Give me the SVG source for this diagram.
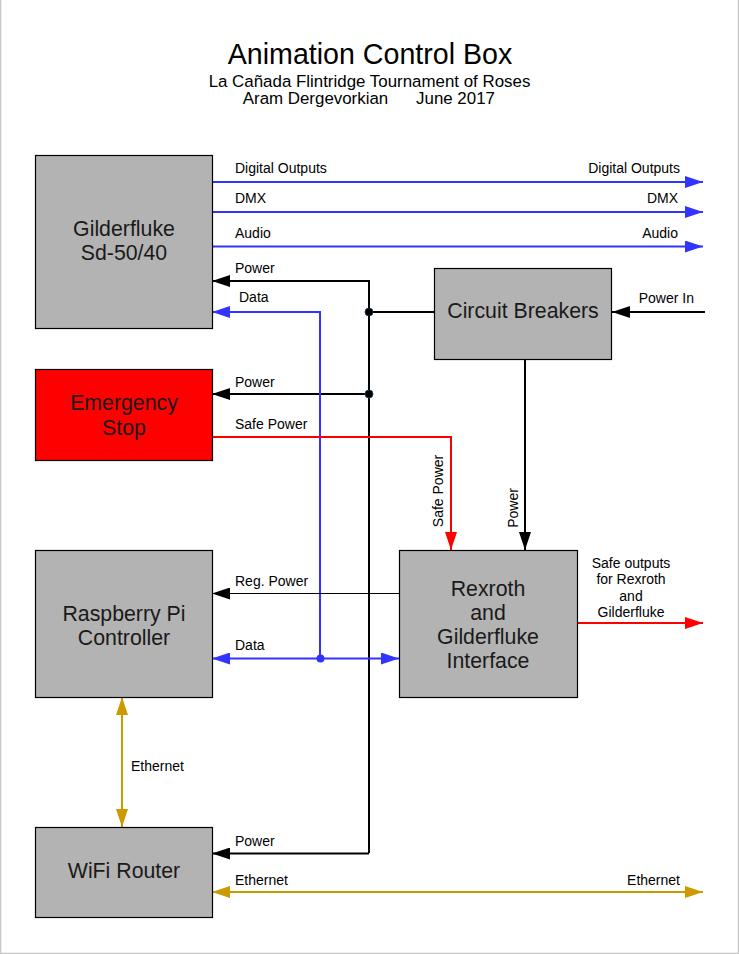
<svg xmlns="http://www.w3.org/2000/svg" width="739" height="954" viewBox="0 0 739 954">
<style>
text{font-family:"Liberation Sans",Arial,sans-serif;fill:#000}
.t1{font-size:28.6px;text-anchor:middle}
.t2{font-size:16.9px;text-anchor:middle}
.lbl{font-size:14px}
.end{text-anchor:end}
.mid{text-anchor:middle}
.box{fill:#b3b3b3;stroke:#000;stroke-width:1.2}
.bt{font-size:21.3px;text-anchor:middle;fill:#1a1a1a}
.blue{stroke:#3333ff;stroke-width:2;fill:none}
.blk{stroke:#000;stroke-width:2;fill:none}
.red{stroke:#ff0000;stroke-width:2;fill:none}
.gold{stroke:#cc9900;stroke-width:2;fill:none}
</style>
<defs>
<marker id="ab" viewBox="0 0 18 12" refX="18" refY="6" markerWidth="18" markerHeight="12" markerUnits="userSpaceOnUse" orient="auto-start-reverse"><path d="M0,0L18,6L0,12z" fill="#3333ff"/></marker>
<marker id="ak" viewBox="0 0 18 12" refX="18" refY="6" markerWidth="18" markerHeight="12" markerUnits="userSpaceOnUse" orient="auto-start-reverse"><path d="M0,0L18,6L0,12z" fill="#000"/></marker>
<marker id="ar" viewBox="0 0 18 12" refX="18" refY="6" markerWidth="18" markerHeight="12" markerUnits="userSpaceOnUse" orient="auto-start-reverse"><path d="M0,0L18,6L0,12z" fill="#ff0000"/></marker>
<marker id="ag" viewBox="0 0 18 12" refX="18" refY="6" markerWidth="18" markerHeight="12" markerUnits="userSpaceOnUse" orient="auto-start-reverse"><path d="M0,0L18,6L0,12z" fill="#cc9900"/></marker>
</defs>
<rect width="739" height="954" fill="#fff"/>
<path d="M0.5,0V953.5H738.5V0" fill="none" stroke="#c8c8c8" stroke-width="1.5"/>

<g id="title">
<text class="t1" x="370" y="64">Animation Control Box</text>
<text class="t2" x="369.5" y="86.5">La Cañada Flintridge Tournament of Roses</text>
<text class="t2" x="315.5" y="104">Aram Dergevorkian</text>
<text class="t2" x="455.5" y="104">June 2017</text>
</g>

<g id="connectors">
<path class="blue" d="M212,182H703" marker-end="url(#ab)"/>
<path class="blue" d="M212,212H703" marker-end="url(#ab)"/>
<path class="blue" d="M212,246.5H703" marker-end="url(#ab)"/>
<path class="blk" d="M369,853V281H212" marker-end="url(#ak)"/>
<path class="blk" d="M369,312H434"/>
<path class="blk" d="M369,394H212" marker-end="url(#ak)"/>
<path class="blk" d="M369,853.5H212" marker-end="url(#ak)"/>
<path class="blk" d="M705,312H612" marker-end="url(#ak)"/>
<path class="blue" d="M320,658.5V312H212" marker-end="url(#ab)"/>
<path class="blue" d="M212,658.5H399" marker-start="url(#ab)" marker-end="url(#ab)"/>
<path class="red" d="M212,437H451V550" marker-end="url(#ar)"/>
<path class="blk" d="M525,359V550" marker-end="url(#ak)"/>
<path d="M399,593.5H212" stroke="#000" stroke-width="1" fill="none" marker-end="url(#ak)"/>
<path class="red" d="M577,623H703" marker-end="url(#ar)"/>
<path class="gold" d="M122,697V827" marker-start="url(#ag)" marker-end="url(#ag)"/>
<path class="gold" d="M212,892H703" marker-start="url(#ag)" marker-end="url(#ag)"/>
<circle cx="369" cy="312" r="4" fill="#000" stroke="#1f3a5f" stroke-width="0.8"/>
<circle cx="369" cy="394" r="4" fill="#000" stroke="#1f3a5f" stroke-width="0.8"/>
<circle cx="320.5" cy="658.5" r="4" fill="#3333ff"/>
<text class="lbl" x="235" y="173">Digital Outputs</text>
<text class="lbl end" x="680" y="173">Digital Outputs</text>
<text class="lbl" x="235" y="203">DMX</text>
<text class="lbl end" x="678" y="203">DMX</text>
<text class="lbl" x="235" y="237.5">Audio</text>
<text class="lbl end" x="678" y="237.5">Audio</text>
<text class="lbl" x="235" y="273">Power</text>
<text class="lbl" x="239" y="302">Data</text>
<text class="lbl end" x="694" y="303">Power In</text>
<text class="lbl" x="235" y="386.5">Power</text>
<text class="lbl" x="235" y="428.5">Safe Power</text>
<text class="lbl" x="443" y="491" transform="rotate(-90 443 491)" text-anchor="middle">Safe Power</text>
<text class="lbl" x="518" y="508" transform="rotate(-90 518 508)" text-anchor="middle">Power</text>
<text class="lbl" x="235" y="586">Reg. Power</text>
<text class="lbl" x="235" y="650">Data</text>
<text class="lbl mid" x="631" y="567.5">Safe outputs</text>
<text class="lbl mid" x="631" y="584">for Rexroth</text>
<text class="lbl mid" x="631" y="600.5">and</text>
<text class="lbl mid" x="631" y="617">Gilderfluke</text>
<text class="lbl" x="131" y="771">Ethernet</text>
<text class="lbl" x="235" y="846">Power</text>
<text class="lbl" x="235" y="885">Ethernet</text>
<text class="lbl end" x="680" y="885">Ethernet</text>
</g>

<g id="gilderfluke">
<rect class="box" x="35.5" y="155.5" width="177" height="173"/>
<text class="bt" x="124" y="236">Gilderfluke</text>
<text class="bt" x="124" y="259.5">Sd-50/40</text>
</g>
<g id="circuit-breakers">
<rect class="box" x="434.5" y="268.5" width="177" height="91"/>
<text class="bt" x="523" y="317.5">Circuit Breakers</text>
</g>
<g id="emergency-stop">
<rect x="35.5" y="369.5" width="177" height="91" fill="#ff0000" stroke="#000" stroke-width="1.2"/>
<text class="bt" x="124" y="410">Emergency</text>
<text class="bt" x="124" y="435">Stop</text>
</g>
<g id="raspberry-pi">
<rect class="box" x="35.5" y="550.5" width="177" height="147"/>
<text class="bt" x="124" y="621">Raspberry Pi</text>
<text class="bt" x="124" y="645">Controller</text>
</g>
<g id="interface">
<rect class="box" x="399.5" y="550.5" width="178" height="147"/>
<text class="bt" x="488" y="595.5">Rexroth</text>
<text class="bt" x="488" y="620">and</text>
<text class="bt" x="488" y="644">Gilderfluke</text>
<text class="bt" x="488" y="668">Interface</text>
</g>
<g id="wifi-router">
<rect class="box" x="35.5" y="827.5" width="177" height="90"/>
<text class="bt" x="124" y="877.5">WiFi Router</text>
</g>
</svg>
